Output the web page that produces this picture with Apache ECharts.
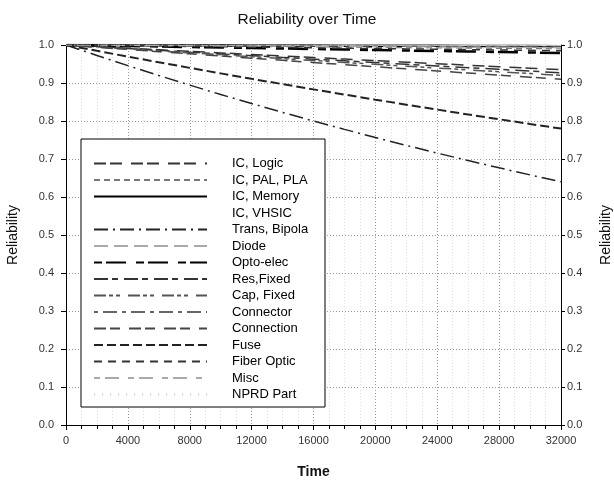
<!DOCTYPE html>
<html>
<head>
<meta charset="utf-8">
<script src="https://cdn.jsdelivr.net/npm/echarts@6/dist/echarts.min.js"></script>
<style>html,body{margin:0;padding:0;background:#fff}#c{width:614px;height:484px}</style>
</head>
<body>
<div id="c"></div>
<script>
var times = [0,2000,4000,6000,8000,10000,12000,14000,16000,18000,20000,22000,24000,26000,28000,30000,32000];
var xTicks = [0,4000,8000,12000,16000,20000,24000,28000,32000];
var yTicks = [0.0,0.1,0.2,0.3,0.4,0.5,0.6,0.7,0.8,0.9,1.0];
var names = ['IC, Logic','IC, PAL, PLA','IC, Memory','IC, VHSIC','Trans, Bipola','Diode','Opto-elec','Res,Fixed','Cap, Fixed','Connector','Connection','Fuse','Fiber Optic','Misc','NPRD Part'];

var icLogic    = [1,0.9958,0.9916,0.9875,0.9833,0.9792,0.9751,0.9710,0.9670,0.9629,0.9589,0.9549,0.9509,0.9469,0.9429,0.9390,0.935];
var icPal      = [1,0.9994,0.9987,0.9981,0.9975,0.9969,0.9962,0.9956,0.9950,0.9944,0.9937,0.9931,0.9925,0.9919,0.9912,0.9906,0.990];
var icMemory   = [1,0.9998,0.9996,0.9994,0.9992,0.9991,0.9989,0.9987,0.9985,0.9983,0.9981,0.9979,0.9977,0.9976,0.9974,0.9972,0.997];
var icVhsic    = [1,0.9999,0.9999,0.9998,0.9997,0.9997,0.9996,0.9996,0.9995,0.9994,0.9994,0.9993,0.9992,0.9992,0.9991,0.9991,0.999];
var transBip   = [1,0.9725,0.9457,0.9197,0.8944,0.8698,0.8459,0.8226,0.8000,0.7780,0.7566,0.7358,0.7155,0.6959,0.6767,0.6581,0.640];
var diode      = [1,0.9999,0.9997,0.9996,0.9995,0.9994,0.9992,0.9991,0.9990,0.9989,0.9987,0.9986,0.9985,0.9984,0.9982,0.9981,0.998];
var optoElec   = [1,0.9987,0.9974,0.9960,0.9947,0.9934,0.9921,0.9908,0.9894,0.9881,0.9868,0.9855,0.9842,0.9829,0.9816,0.9803,0.979];
var resFixed   = [1,0.9953,0.9906,0.9859,0.9812,0.9766,0.9720,0.9674,0.9628,0.9583,0.9537,0.9492,0.9448,0.9403,0.9359,0.9314,0.927];
var capFixed   = [1,0.9948,0.9896,0.9845,0.9794,0.9743,0.9692,0.9642,0.9592,0.9542,0.9492,0.9443,0.9394,0.9345,0.9296,0.9248,0.920];
var connector  = [1,0.9997,0.9994,0.9991,0.9987,0.9984,0.9981,0.9978,0.9975,0.9972,0.9969,0.9966,0.9962,0.9959,0.9956,0.9953,0.995];
var connection = [1,0.9941,0.9883,0.9825,0.9767,0.9710,0.9653,0.9596,0.9539,0.9483,0.9428,0.9372,0.9317,0.9262,0.9208,0.9154,0.910];
var fuse       = [1,0.9846,0.9694,0.9545,0.9398,0.9253,0.9110,0.8970,0.8832,0.8696,0.8562,0.8430,0.8300,0.8172,0.8046,0.7922,0.780];
var fiberOptic = [1,0.9991,0.9981,0.9972,0.9962,0.9953,0.9944,0.9934,0.9925,0.9916,0.9906,0.9897,0.9888,0.9878,0.9869,0.9860,0.985];
var misc       = [1,0.9996,0.9991,0.9987,0.9982,0.9978,0.9974,0.9969,0.9965,0.9961,0.9956,0.9952,0.9948,0.9943,0.9939,0.9934,0.993];
var nprdPart   = [1,0.9999,0.9999,0.9998,0.9997,0.9997,0.9996,0.9996,0.9995,0.9994,0.9994,0.9993,0.9992,0.9992,0.9991,0.9991,0.999];

var seriesData = [icLogic,icPal,icMemory,icVhsic,transBip,diode,optoElec,resFixed,capFixed,connector,connection,fuse,fiberOptic,misc,nprdPart];
var styles = [
  {color:'#333', width:1.5, type:[12,4,12,9]},
  {color:'#777', width:1.2, type:[6,4]},
  {color:'#000', width:2.5, type:'solid'},
  {color:'#ffffff', width:1, type:'solid'},
  {color:'#222', width:1.5, type:[14,5,2,5]},
  {color:'#aaa', width:1.2, type:[14,6]},
  {color:'#000', width:2.5, type:[8,4,20,10]},
  {color:'#333', width:1.5, type:[14,4,6,6]},
  {color:'#555', width:1.5, type:[12,3,4,3,4,8]},
  {color:'#666', width:1.2, type:[4,5,14,5]},
  {color:'#444', width:1.5, type:[12,4,10,9]},
  {color:'#222', width:2, type:[9,4]},
  {color:'#333', width:1.5, type:[8,6]},
  {color:'#aaa', width:1.2, type:[6,5,14,9]},
  {color:'#c8c8c8', width:1.2, type:[1,7]}
];

var series = names.map(function(n,i){
  return {
    name:n, type:'line', symbol:'none', showSymbol:false,
    data: times.map(function(t,j){return [t, seriesData[i][j]];}),
    lineStyle:{color:styles[i].color, width:styles[i].width, type:styles[i].type},
    itemStyle:{color:styles[i].color},
    animation:false, z:2
  };
});

var fontFam = 'Liberation Sans, Arial, sans-serif';
var chart = echarts.init(document.getElementById('c'), null, {renderer:'canvas'});
chart.setOption({
  backgroundColor:'#fff',
  animation:false,
  title:{text:'Reliability over Time', left:'center', top:7, textStyle:{fontFamily:fontFam, fontSize:15.5, fontWeight:'normal', color:'#111'}},
  grid:{left:66, right:53, top:45, bottom:59, outerBoundsMode:'none', containLabel:false},
  legend:{
    orient:'vertical', left:88, top:152, itemWidth:113, itemHeight:12, itemGap:3.5,
    data:names,
    selectedMode:false,
    itemStyle:{opacity:0},
    textStyle:{fontFamily:fontFam, fontSize:13, color:'#000', padding:[0,0,0,20]},
    z:10
  },
  graphic:[{type:'rect', shape:{x:81, y:139, width:244, height:268}, style:{fill:'#fff', stroke:'#000', lineWidth:1}, z:5}],
  xAxis:{
    type:'value', min:xTicks[0], max:xTicks[xTicks.length-1], interval:4000,
    name:'Time', nameLocation:'middle', nameGap:40,
    nameTextStyle:{fontFamily:fontFam, fontSize:14, color:'#111', fontWeight:'bold'},
    axisLine:{lineStyle:{color:'#000', width:1}},
    axisTick:{show:true, length:5, lineStyle:{color:'#000'}},
    minorTick:{show:true, splitNumber:4, length:4, lineStyle:{color:'#000'}},
    axisLabel:{fontFamily:fontFam, fontSize:11, color:'#333', margin:10, formatter:function(v){return String(v);}},
    splitLine:{show:true, lineStyle:{color:'#999', type:[1,2], width:1}},
    minorSplitLine:{show:true, lineStyle:{color:'#e0e0e0', type:[1,2], width:1}}
  },
  yAxis:[{
    type:'value', min:0, max:1, interval:0.1, position:'left',
    name:'Reliability', nameLocation:'middle', nameGap:46, nameRotate:90,
    nameTextStyle:{fontFamily:fontFam, fontSize:14, color:'#111'},
    axisLine:{show:true, lineStyle:{color:'#000'}},
    axisTick:{show:true, length:5, lineStyle:{color:'#000'}},
    axisLabel:{fontFamily:fontFam, fontSize:11, color:'#333', margin:12, formatter:function(v){return v.toFixed(1);}},
    splitLine:{show:true, lineStyle:{color:'#999', type:[1,2], width:1}}
  },{
    type:'value', min:0, max:1, interval:0.1, position:'right',
    name:'Reliability', nameLocation:'middle', nameGap:38, nameRotate:90,
    nameTextStyle:{fontFamily:fontFam, fontSize:14, color:'#111'},
    axisLine:{show:true, lineStyle:{color:'#000'}},
    axisTick:{show:true, length:4, lineStyle:{color:'#000'}},
    axisLabel:{fontFamily:fontFam, fontSize:11, color:'#333', margin:6, formatter:function(v){return v.toFixed(1);}},
    splitLine:{show:false}
  }],
  series:series
});
</script>
</body>
</html>
